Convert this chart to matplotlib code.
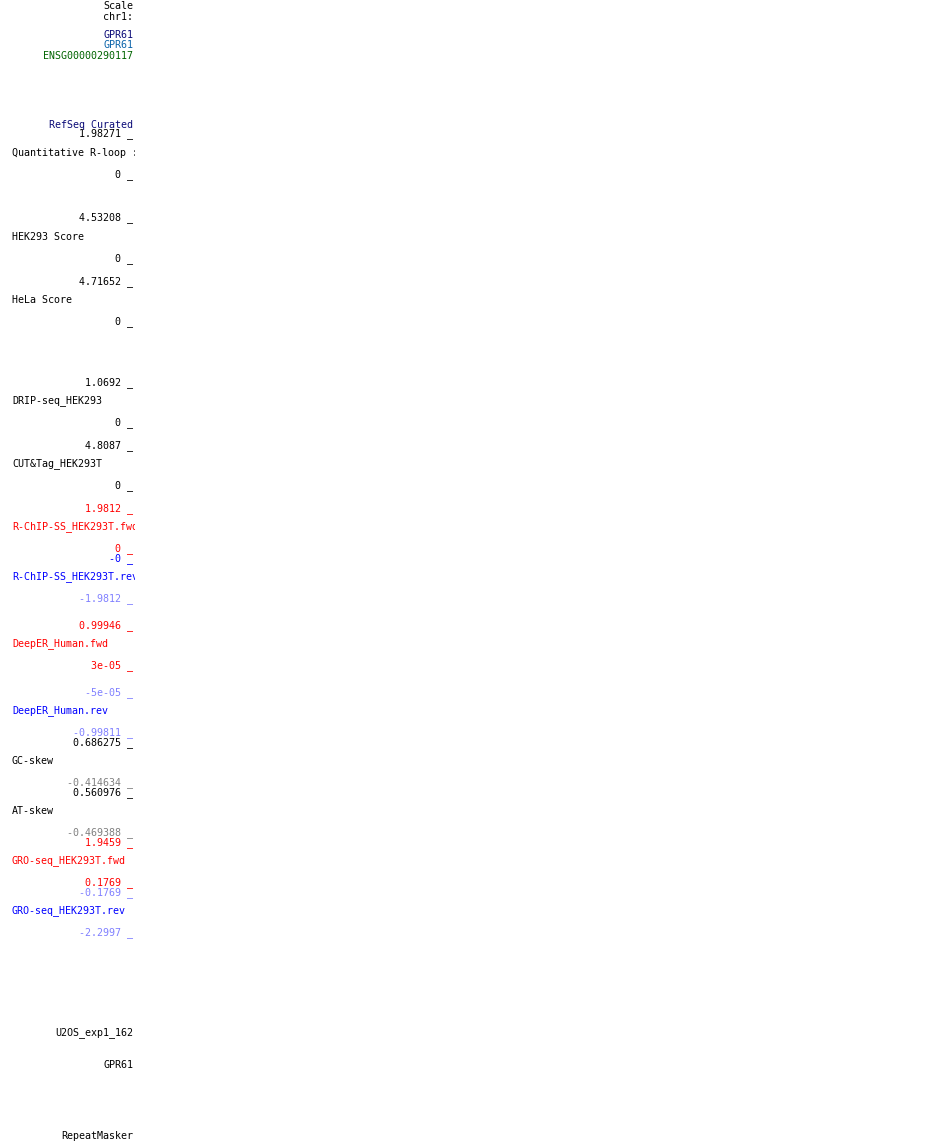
import matplotlib
matplotlib.use("Agg")
import matplotlib.pyplot as plt
from matplotlib.patches import Rectangle

# Track label panel (genome browser left margin)
labels = [
    "Scale", "chr1:", "GPR61", "GPR61", "ENSG00000290117",
    "RefSeq Curated", "1.98271 _", "Quantitative R-loop :", "0 _",
    "4.53208 _", "HEK293 Score", "0 _",
    "4.71652 _", "HeLa Score", "0 _",
    "1.0692 _", "DRIP-seq_HEK293", "0 _",
    "4.8087 _", "CUT&Tag_HEK293T", "0 _",
    "1.9812 _", "R-ChIP-SS_HEK293T.fwd", "0 _",
    "-0 _", "R-ChIP-SS_HEK293T.rev", "-1.9812 _",
    "0.99946 _", "DeepER_Human.fwd", "3e-05 _",
    "-5e-05 _", "DeepER_Human.rev", "-0.99811 _",
    "0.686275 _", "GC-skew", "-0.414634 _",
    "0.560976 _", "AT-skew", "-0.469388 _",
    "1.9459 _", "GRO-seq_HEK293T.fwd", "0.1769 _",
    "-0.1769 _", "GRO-seq_HEK293T.rev", "-2.2997 _",
    "U2OS_exp1_162", "GPR61", "RepeatMasker",
]
label_rows = [
    6, 17, 35, 45, 56,
    125, 134, 153, 175,
    218, 237, 259,
    282, 300, 322,
    383, 401, 423,
    446, 464, 486,
    509, 527, 549,
    559, 577, 599,
    626, 644, 666,
    693, 711, 733,
    743, 761, 783,
    793, 811, 833,
    843, 861, 883,
    893, 911, 933,
    1033, 1065, 1136,
]
# 'r' = right aligned at panel edge, 'l' = left aligned track title
label_align = list("rrrrr" "rrlr" + "rlr" * 12 + "rrr")

NAVY, STEEL, GREEN = "#0c0c78", "#0c64aa", "#006400"
RED, BLUE, LBLUE, GRAY = "#ff0000", "#0000ff", "#8080ff", "#808080"
label_colors = (
    ["black", "black", NAVY, STEEL, GREEN]
    + [NAVY, "black", "black", "black"]
    + ["black"] * 12
    + [RED, RED, RED, BLUE, BLUE, LBLUE]
    + [RED, RED, RED, LBLUE, BLUE, LBLUE]
    + ["black", "black", GRAY, "black", "black", GRAY]
    + [RED, RED, RED, LBLUE, BLUE, LBLUE]
    + ["black", "black", "black"]
)

W, H = 950, 1142
fig = plt.figure(figsize=(W / 100, H / 100), dpi=100)
ax = fig.add_axes([0, 0, 1, 1])
ax.set_xlim(0, W)
ax.set_ylim(H, 0)
ax.axis("off")

clip = Rectangle((0, 0), 135, H, transform=ax.transData)
for text, y, al, c in zip(labels, label_rows, label_align, label_colors):
    if al == "r":
        t = ax.text(133, y, text, ha="right", va="center", color=c,
                    family="DejaVu Sans Mono", fontsize=7.2, clip_on=True)
    else:
        t = ax.text(12, y, text, ha="left", va="center", color=c,
                    family="DejaVu Sans Mono", fontsize=7.2, clip_on=True)
    t.set_clip_path(clip)

fig.savefig("out.png", dpi=100, facecolor="white")
